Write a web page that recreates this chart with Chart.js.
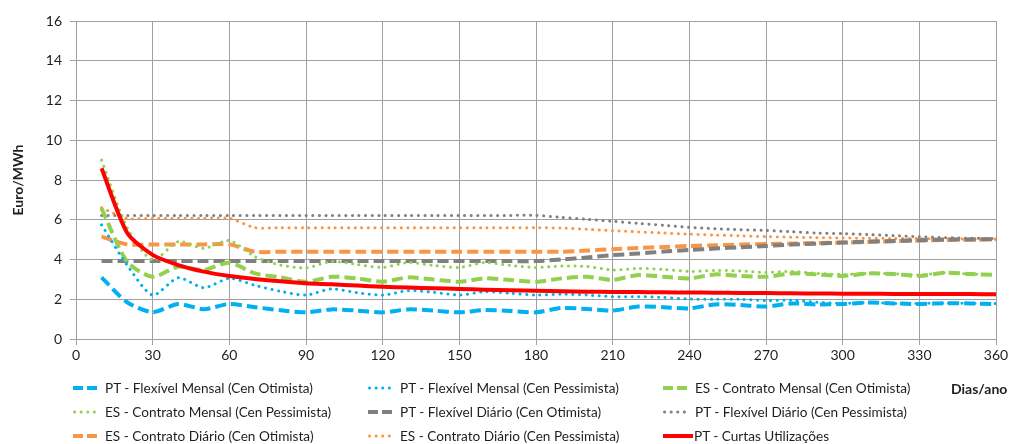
<!DOCTYPE html>
<html>
<head>
<meta charset="utf-8">
<script src="https://cdn.jsdelivr.net/npm/chart.js@4.4.0/dist/chart.umd.min.js"></script>
<style>
  body { margin: 0; background: #fff; }
  #wrap { position: relative; width: 1014px; height: 444px; font-family: Lato, "Open Sans", sans-serif; }
  #legend { position: absolute; left: 0; top: 0; width: 1014px; height: 444px; pointer-events: none; }
  .item { position: absolute; display: flex; align-items: center; font-size: 13.6px; color: #1f1f1f; white-space: nowrap; transform: translateY(-50%); }
  .item svg { margin-right: 8px; }
  #xtitle { position: absolute; left: 951px; top: 388px; transform: translateY(-50%); font-weight: bold; font-size: 14px; color: #1f1f1f; }
</style>
</head>
<body>
<div id="wrap">
  <canvas id="myChart" width="1014" height="444"></canvas>
  <div id="legend"></div>
  <div id="xtitle">Dias/ano</div>
</div>
<script>
const days = [10, 20, 30, 40, 50, 60, 70, 80, 90, 100, 110, 120, 130, 140, 150, 160, 170, 180,
  190, 200, 210, 220, 230, 240, 250, 260, 270, 280, 290, 300, 310, 320, 330, 340, 350, 360];

const ptFlexMensalOtim = [3.1, 1.85, 1.35, 1.76, 1.5, 1.76, 1.6, 1.45, 1.34, 1.49, 1.43, 1.34, 1.49, 1.43, 1.34, 1.46, 1.41, 1.34,
  1.56, 1.51, 1.43, 1.63, 1.6, 1.54, 1.74, 1.71, 1.63, 1.79, 1.74, 1.76, 1.83, 1.79, 1.76, 1.8, 1.79, 1.76];
const ptFlexMensalPess = [5.74, 3.72, 2.21, 3.08, 2.58, 3.05, 2.7, 2.4, 2.21, 2.52, 2.33, 2.21, 2.43, 2.35, 2.21, 2.38, 2.3, 2.21,
  2.25, 2.21, 2.13, 2.13, 2.09, 2.01, 2.0, 2.0, 1.93, 1.95, 1.85, 1.79, 1.83, 1.79, 1.79, 1.8, 1.79, 1.79];
const esContMensalOtim = [6.57, 3.89, 3.13, 3.64, 3.47, 3.84, 3.3, 3.1, 2.88, 3.13, 3.05, 2.88, 3.1, 2.99, 2.88, 3.05, 2.97, 2.88,
  3.05, 3.13, 2.97, 3.22, 3.13, 3.05, 3.25, 3.17, 3.13, 3.3, 3.25, 3.17, 3.3, 3.27, 3.17, 3.33, 3.27, 3.22];
const esContMensalPess = [9.0, 5.6, 3.97, 4.9, 4.56, 4.95, 4.14, 3.72, 3.58, 3.9, 3.75, 3.6, 3.85, 3.7, 3.6, 3.85, 3.7, 3.6,
  3.67, 3.65, 3.47, 3.55, 3.5, 3.4, 3.45, 3.42, 3.35, 3.4, 3.3, 3.25, 3.3, 3.28, 3.22, 3.33, 3.27, 3.22];
const ptFlexDiarioOtim = [3.92, 3.92, 3.92, 3.92, 3.92, 3.92, 3.92, 3.92, 3.92, 3.92, 3.92, 3.92, 3.92, 3.92, 3.92, 3.92, 3.92, 3.92,
  4.0, 4.1, 4.22, 4.3, 4.4, 4.48, 4.55, 4.62, 4.68, 4.75, 4.8, 4.85, 4.9, 4.93, 4.97, 5.0, 5.01, 5.02];
const ptFlexDiarioPess = [6.22, 6.22, 6.22, 6.22, 6.22, 6.22, 6.22, 6.22, 6.22, 6.22, 6.22, 6.22, 6.22, 6.22, 6.22, 6.22, 6.22, 6.22,
  6.12, 6.02, 5.92, 5.82, 5.72, 5.62, 5.55, 5.5, 5.46, 5.4, 5.33, 5.3, 5.25, 5.2, 5.15, 5.1, 5.07, 5.05];
const esContDiarioOtim = [5.15, 4.76, 4.76, 4.76, 4.76, 4.76, 4.39, 4.39, 4.39, 4.39, 4.39, 4.39, 4.39, 4.39, 4.39, 4.39, 4.39, 4.39,
  4.39, 4.45, 4.52, 4.58, 4.63, 4.68, 4.72, 4.75, 4.78, 4.8, 4.83, 4.85, 4.88, 4.92, 4.95, 4.98, 5.0, 5.02];
const esContDiarioPess = [6.6, 6.07, 6.07, 6.07, 6.07, 6.07, 5.6, 5.6, 5.6, 5.6, 5.6, 5.6, 5.6, 5.6, 5.6, 5.6, 5.6, 5.6,
  5.58, 5.52, 5.45, 5.39, 5.33, 5.28, 5.23, 5.19, 5.15, 5.12, 5.1, 5.08, 5.07, 5.06, 5.05, 5.04, 5.03, 5.02];
const ptCurtas = [8.59, 5.35, 4.23, 3.72, 3.39, 3.17, 3.02, 2.9, 2.8, 2.75, 2.69, 2.63, 2.59, 2.55, 2.52, 2.48, 2.45, 2.43,
  2.4, 2.38, 2.37, 2.36, 2.35, 2.34, 2.33, 2.32, 2.31, 2.3, 2.29, 2.28, 2.28, 2.27, 2.27, 2.26, 2.26, 2.25];

const names = [
  'PT - Flexível Mensal (Cen Otimista)', 'PT - Flexível Mensal (Cen Pessimista)', 'ES - Contrato Mensal (Cen Otimista)',
  'ES - Contrato Mensal (Cen Pessimista)', 'PT - Flexível Diário (Cen Otimista)', 'PT - Flexível Diário (Cen Pessimista)',
  'ES - Contrato Diário (Cen Otimista)', 'ES - Contrato Diário (Cen Pessimista)', 'PT - Curtas Utilizações'
];

const blue = '#00B0F0', green = '#92D050', grey = '#808080', orange = '#F79646', red = '#FF0000';
const DASH = [11, 5], DOT = [0.1, 6.5];

function pts(vals) { return days.map((d, i) => ({ x: d, y: vals[i] })); }

function line(label, vals, color, dash, width, order) {
  return {
    label: label,
    data: pts(vals),
    borderColor: color,
    backgroundColor: color,
    borderWidth: width,
    borderDash: dash,
    borderCapStyle: dash === DOT ? 'round' : 'butt',
    pointRadius: 0,
    tension: 0.25,
    fill: false,
    order: order
  };
}

const datasets = [
  line(names[0], ptFlexMensalOtim, blue, DASH, 4, 1),
  line(names[1], ptFlexMensalPess, blue, DOT, 3, 1),
  line(names[2], esContMensalOtim, green, DASH, 4, 1),
  line(names[3], esContMensalPess, green, DOT, 3, 1),
  line(names[4], ptFlexDiarioOtim, grey, DASH, 4, 1),
  line(names[5], ptFlexDiarioPess, grey, DOT, 3, 1),
  line(names[6], esContDiarioOtim, orange, DASH, 4, 1),
  line(names[7], esContDiarioPess, orange, DOT, 3, 1),
  line(names[8], ptCurtas, red, [], 4, 0)
];

const gridColor = '#a0a0a0';
const tickFont = { family: 'Lato', size: 14 };

const ctx = document.getElementById('myChart').getContext('2d');
const chart = new Chart(ctx, {
  type: 'line',
  data: { datasets: datasets },
  options: {
    responsive: false,
    animation: false,
    layout: { padding: { top: 21, right: 18, bottom: 0, left: 0 } },
    plugins: { legend: { display: false }, tooltip: { enabled: false } },
    scales: {
      x: {
        type: 'linear', min: 0, max: 360,
        ticks: { stepSize: 30, color: '#1f1f1f', font: tickFont, padding: 2 },
        grid: { color: gridColor, tickLength: 6 },
        border: { color: gridColor },
        afterFit: function(scale) { scale.height = 105; }
      },
      y: {
        min: 0, max: 16,
        ticks: { stepSize: 2, color: '#1f1f1f', font: tickFont, padding: 8 },
        grid: { color: gridColor, tickLength: 6 },
        border: { color: gridColor },
        title: { display: true, text: 'Euro/MWh', color: '#1f1f1f', font: { family: 'Lato', size: 14, weight: 'bold' }, padding: { top: 10, bottom: 0 } },
        afterFit: function(scale) { scale.width = 76; }
      }
    }
  }
});

// legend laid out as a 3x3 grid like the original
const legendEl = document.getElementById('legend');
const colX = [73, 368, 663];
const rowY = [388, 412, 436];
chart.data.datasets.forEach(function(ds, i) {
  const item = document.createElement('div');
  item.className = 'item';
  item.style.left = colX[i % 3] + 'px';
  item.style.top = rowY[Math.floor(i / 3)] + 'px';
  const solid = ds.borderDash.length === 0;
  const dot = ds.borderDash === DOT;
  const w = solid ? 30 : 24;
  const dashAttr = solid ? '' : (dot ? ' stroke-dasharray="0.1 6.5" stroke-linecap="round"' : ' stroke-dasharray="10 4"');
  item.innerHTML = '<svg width="' + w + '" height="8"><line x1="' + (dot ? 1.5 : 0) + '" y1="4" x2="' + w + '" y2="4" stroke="' + ds.borderColor +
    '" stroke-width="' + ds.borderWidth + '"' + dashAttr + '/></svg><span>' + ds.label + '</span>';
  if (solid) item.querySelector('svg').style.marginRight = '1px';
  legendEl.appendChild(item);
});
</script>
</body>
</html>
